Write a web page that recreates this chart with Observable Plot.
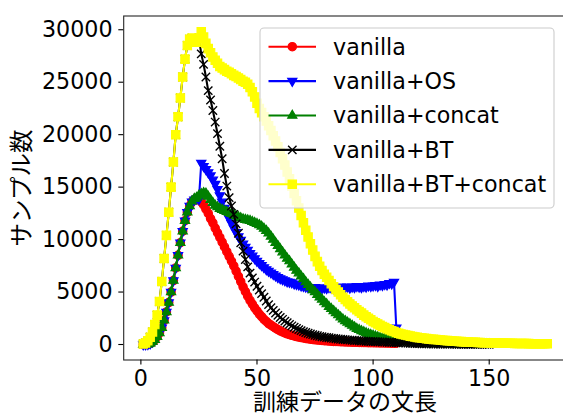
<!DOCTYPE html>
<html><head><meta charset="utf-8">
<script src="https://cdn.jsdelivr.net/npm/d3@7"></script>
<script src="https://cdn.jsdelivr.net/npm/@observablehq/plot@0.6"></script>
<style>
html,body{margin:0;padding:0;background:#fff;overflow:hidden;}
#chart{width:563px;height:414px;overflow:hidden;position:relative;}
#chart svg{max-width:none !important;}
</style></head><body><div id="chart"></div>
<script>
// sentence length (x) starts at 1 and increases by 1 per value
const firstLength = 1;
const seriesNames = ["vanilla", "vanilla+OS", "vanilla+concat", "vanilla+BT", "vanilla+BT+concat"];
const seriesColors = ["red", "blue", "green", "black", "yellow"];
const seriesSymbols = ["circle", "triangle", "triangle", "times", "square"];
const seriesRotate = [0, 180, 0, 0, 0];

const vanilla = [
0,0,30,100,250,450,750,1100,1600,2300,
3100,4000,5000,6100,7300,8500,9700,10800,11800,12600,
13200,13600,13800,13900,13850,13600,13300,12900,12500,12000,
11600,11100,10650,10200,9750,9300,8850,8400,7950,7500,
7000,6500,6000,5500,5050,4600,4200,3850,3500,3200,
2900,2650,2400,2200,2000,1850,1700,1550,1420,1300,
1200,1100,1020,950,880,820,760,710,660,620,
580,540,510,480,450,430,410,390,370,350,
330,315,300,290,280,270,260,250,240,230,
220,215,210,200,195,190,185,180,175,170,
165,160,155,150,145,140,135,130,125,120];

const vanillaOS = [
0,0,30,100,250,450,750,1100,1600,2300,
3100,4000,5000,6100,7300,8500,9700,10800,11800,12600,
13200,13600,13800,13900,13850,17300,17000,16700,16400,16100,
15700,15300,14800,14200,13600,13000,12500,12000,11550,11100,
10700,10300,9950,9600,9300,9000,8700,8450,8200,7950,
7750,7550,7350,7150,7000,6850,6700,6550,6400,6300,
6200,6100,6000,5950,5900,5800,5750,5700,5600,5550,
5500,5450,5450,5400,5450,5350,5400,5350,5400,5350,
5450,5400,5350,5450,5400,5500,5400,5450,5500,5400,
5500,5450,5550,5500,5450,5550,5500,5600,5550,5600,
5650,5550,5700,5650,5750,5700,5850,5800,5950,1600];

const vanillaConcat = [
0,0,30,100,250,450,750,1100,1600,2300,
3100,4000,5000,6100,7300,8500,9700,10800,11800,12600,
13200,13650,13900,14000,14200,14350,14450,14400,14100,13800,
13500,13250,13100,12950,12850,12750,12650,12550,12450,12350,
12250,12150,12050,11950,11900,11850,11800,11700,11600,11500,
11400,11250,11050,10850,10600,10300,10000,9700,9400,9100,
8800,8500,8200,7950,7650,7350,7050,6800,6500,6250,
5950,5700,5450,5200,5000,4750,4500,4300,4050,3850,
3600,3400,3200,3000,2800,2600,2400,2250,2100,1950,
1800,1650,1500,1400,1290,1190,1090,1000,920,850,
780,710,650,600,550,500,460,420,380,350,
320,295,270,250,230,210,195,180,165,150,
140,130,120,110,100,95,90,85,80,75,
70,65,60,55,50,48,46,44,42,40,
38,36,34,32,30,28,26,24,22,20];

const vanillaBT = [
50,150,350,700,1200,1900,2800,4100,6000,8200,
10400,12600,15000,17400,20000,21700,23500,25500,27200,28500,
29100,29200,29000,28800,29200,27700,26700,25500,24200,23300,
22300,21200,20100,18900,17700,16300,15100,14000,13200,12400,
11500,10600,9700,8900,8100,7400,6800,6350,5950,5550,
5200,4850,4500,4150,3800,3500,3250,3000,2780,2580,
2400,2230,2070,1920,1780,1650,1530,1420,1320,1230,
1150,1070,1000,940,880,830,780,740,700,670,
640,610,580,550,525,500,480,460,440,420,
400,385,370,355,340,325,310,300,290,280,
270,260,250,240,230,220,210,200,190,180,
170,160,150,140,130,120,110,100,90,80,
75,70,65,60,55,50,48,46,44,42,
40,38,36,34,32,30,28,26,24,22,
20,19,18,17,16,15,14,13,12,11];

const vanillaBTConcat = [
50,150,350,700,1200,1900,2800,4100,6000,8200,
10400,12600,15000,17400,20000,21700,23500,25500,27200,28500,
29100,29200,29000,28800,29200,29800,29300,28700,28200,27800,
27400,27100,26800,26500,26350,26200,26050,25950,25800,25650,
25550,25400,25250,25100,25000,24800,24500,24100,23600,23000,
22500,22100,21700,21300,20850,20400,19900,19400,18850,18300,
17700,17100,16450,15800,15100,14400,13700,13000,12300,11600,
10900,10250,9600,9000,8400,7900,7450,7050,6700,6400,
6100,5800,5500,5250,5000,4750,4500,4280,4070,3870,
3680,3500,3320,3150,2990,2800,2650,2500,2350,2200,
2080,1960,1840,1720,1610,1510,1410,1320,1230,1150,
1080,1010,950,900,850,800,760,720,680,650,
620,590,560,530,510,490,470,450,430,410,
390,370,350,335,320,305,290,275,260,245,
235,225,215,205,195,185,175,170,165,160,
155,150,145,140,135,130,125,120,115,110,
105,100,97,94,91,88,85,82,79,76,
74,72,70,68,66];

const seriesValues = [vanilla, vanillaOS, vanillaConcat, vanillaBT, vanillaBTConcat];
const xTicks = [0, 50, 100, 150];
const yTicks = [0, 5000, 10000, 15000, 20000, 25000, 30000];
const xLabel = "訓練データの文長";
const yLabel = "サンプル数";

const FONT = "'DejaVu Sans', 'Noto Sans CJK JP', sans-serif";
const symbolR = {circle: 4.17, triangle: 3.4, times: 3.9, square: 4.7};

const marks = [];
seriesValues.forEach((vals, k) => {
  const rows = vals.map((v, i) => ({len: firstLength + i, count: v}));
  const color = seriesColors[k];
  const sym = seriesSymbols[k];
  marks.push(Plot.line(rows, {x: "len", y: "count", stroke: color, strokeWidth: 2.08}));
  if (sym === "times") {
    marks.push(Plot.dot(rows, {x: "len", y: "count", symbol: sym, r: symbolR[sym], stroke: color, strokeWidth: 1.39, fill: "none"}));
  } else {
    marks.push(Plot.dot(rows, {x: "len", y: "count", symbol: sym, r: symbolR[sym], fill: color, stroke: color, strokeWidth: 1.2, rotate: seriesRotate[k]}));
  }
});

const plot = Plot.plot({
  width: 575,
  height: 414,
  marginLeft: 123.2,
  marginRight: 9.2,
  marginTop: 15.5,
  marginBottom: 54.5,
  style: {fontFamily: FONT, fontSize: "22.2px", color: "black", background: "white", maxWidth: "none"},
  x: {domain: [-7.4, 183.2]},
  y: {domain: [-1477, 31310]},
  marks: [
    ...marks,
    Plot.frame({stroke: "#262626", strokeWidth: 1.1}),
    Plot.axisX({ticks: xTicks, tickSize: 4.9, tickPadding: 4.9, strokeWidth: 1.1, label: null, tickFormat: d => String(d), fontSize: 22.2, fill: "black"}),
    Plot.axisY({ticks: yTicks, tickSize: 4.9, tickPadding: 6.2, strokeWidth: 1.1, label: null, tickFormat: d => String(d), fontSize: 22.2, fill: "black"}),
    Plot.text([xLabel], {text: d => d, frameAnchor: "bottom", dy: 42.6, lineAnchor: "middle", textAnchor: "middle", fontSize: 23, fill: "black"}),
    Plot.text([yLabel], {text: d => d, frameAnchor: "left", dx: -101.5, rotate: -90, lineAnchor: "middle", textAnchor: "middle", fontSize: 23.5, fill: "black"})
  ]
});
plot.style.maxWidth = "none";

// Legend
const svg = d3.select(plot);
const lg = svg.append("g").attr("font-family", FONT).attr("font-size", "22.2px").attr("text-anchor", "start");
const box = {x: 260, y: 28, w: 294, h: 180};
lg.append("rect").attr("x", box.x).attr("y", box.y).attr("width", box.w).attr("height", box.h)
  .attr("rx", 4).attr("fill", "white").attr("fill-opacity", 0.8).attr("stroke", "#cccccc").attr("stroke-width", 1.1);
const d3sym = {circle: d3.symbolCircle, triangle: d3.symbolTriangle, times: d3.symbolTimes, square: d3.symbolSquare};
seriesNames.forEach((name, k) => {
  const cy = 46.7 + k * 34.4;
  const sym = seriesSymbols[k];
  lg.append("line").attr("x1", 268.5).attr("x2", 316).attr("y1", cy).attr("y2", cy)
    .attr("stroke", seriesColors[k]).attr("stroke-width", 2.08);
  const r = symbolR[sym];
  const p = lg.append("path").attr("d", d3.symbol(d3sym[sym], Math.PI * r * r)())
    .attr("transform", `translate(292.3,${cy}) rotate(${seriesRotate[k]})`);
  if (sym === "times") p.attr("fill", "none").attr("stroke", seriesColors[k]).attr("stroke-width", 1.39);
  else p.attr("fill", seriesColors[k]).attr("stroke", seriesColors[k]).attr("stroke-width", 1.2);
  lg.append("text").attr("x", 333).attr("y", cy).attr("dy", "0.36em").attr("text-anchor", "start").attr("fill", "black").text(name);
});

document.getElementById("chart").appendChild(plot);
</script></body></html>
